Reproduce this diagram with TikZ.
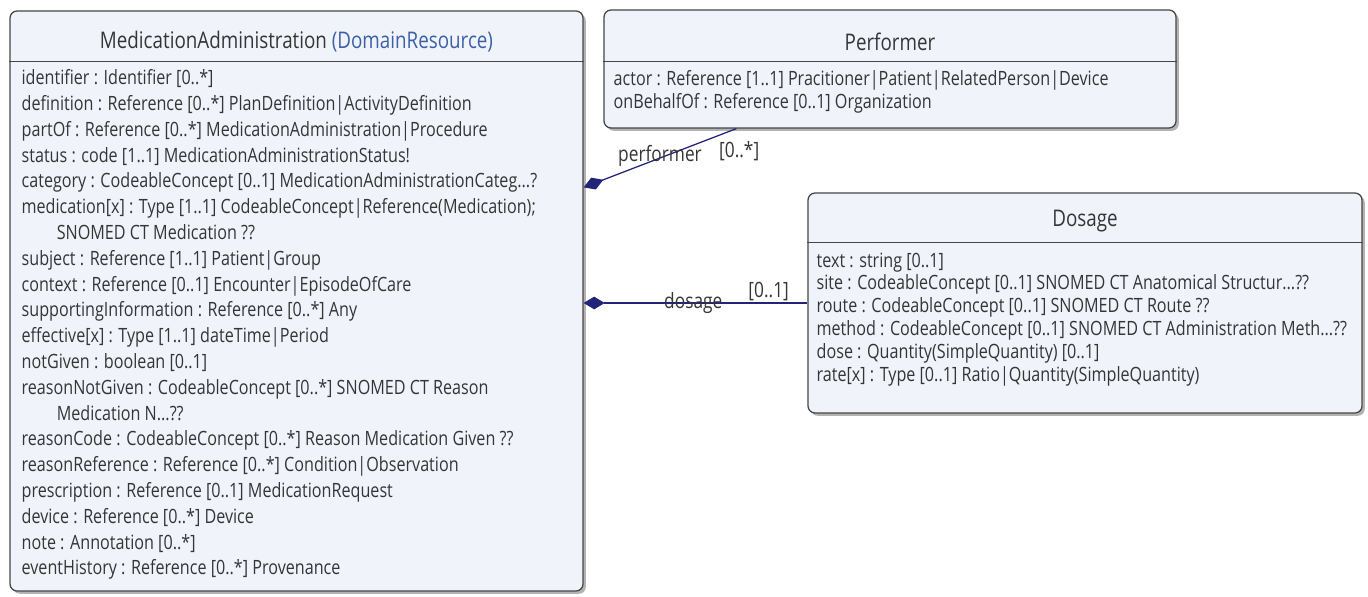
\documentclass[tikz,border=0pt]{standalone}
\usepackage{fontspec}
\setmainfont{Open Sans}[FakeStretch=0.82]
\usetikzlibrary{positioning,calc,fit,shadows,arrows.meta}
\definecolor{boxfill}{HTML}{F0F4FA}
\definecolor{boxline}{HTML}{454545}
\definecolor{assocblue}{HTML}{23237A}
\definecolor{txtgray}{HTML}{353535}
\definecolor{typeblue}{HTML}{3D5FA8}
\tikzset{
    classbox/.style = {rectangle, rounded corners=5pt, draw=boxline, line width=0.9pt, fill=boxfill, inner sep=0pt,
        drop shadow={shadow xshift=2pt, shadow yshift=-2pt, opacity=0.6}},
    sepline/.style = {draw=boxline, line width=0.9pt},
    classname/.style = {text=txtgray, inner sep=0pt, font=\fontsize{16.3}{19}\selectfont},
    attrs/.style = {text=txtgray, align=left, inner sep=0pt, anchor=north west},
    rolename/.style = {text=txtgray, inner sep=1pt, font=\fontsize{15}{17}\selectfont},
    assoc/.style = {draw=assocblue, line width=0.9pt, {Diamond[length=15pt,width=9pt]}-}}

\begin{document}
\begin{tikzpicture}[x=0.025cm, y=-0.025cm, node distance=1cm and 2cm]
    \useasboundingbox (0,0) rectangle (1368,597);
    % class boxes
    \node[classbox, fit={(10,11) (583,591)}] (MA) {};
    \node[classbox, fit={(604,10) (1176,128)}] (P) {};
    \node[classbox, fit={(808,193) (1362,413)}] (D) {};
    \draw[sepline] ($(MA.north west)+(0,51)$) -- ($(MA.north east)+(0,51)$);
    \draw[sepline] ($(P.north west)+(0,52)$) -- ($(P.north east)+(0,52)$);
    \draw[sepline] ($(D.north west)+(0,50)$) -- ($(D.north east)+(0,50)$);
    % names
    \node[classname] (MAn) at ($(MA.north)+(0,31)$) {MedicationAdministration \textcolor{typeblue}{(DomainResource)}};
    \node[classname] (Pn) at ($(P.north)+(0,32)$) {Performer};
    \node[classname] (Dn) at ($(D.north)+(0,29)$) {Dosage};
    % attributes
    \node[attrs, font=\fontsize{14}{18.35}\selectfont] (MAa) at ($(MA.north west)+(12,59)$) {%
        identifier : Identifier [0..*]\\
        definition : Reference [0..*] PlanDefinition|ActivityDefinition\\
        partOf : Reference [0..*] MedicationAdministration|Procedure\\
        status : code [1..1] MedicationAdministrationStatus!\\
        category : CodeableConcept [0..1] MedicationAdministrationCateg...?\\
        medication[x] : Type [1..1] CodeableConcept|Reference(Medication);\\
        \hspace*{25pt}SNOMED CT Medication ??\\
        subject : Reference [1..1] Patient|Group\\
        context : Reference [0..1] Encounter|EpisodeOfCare\\
        supportingInformation : Reference [0..*] Any\\
        effective[x] : Type [1..1] dateTime|Period\\
        notGiven : boolean [0..1]\\
        reasonNotGiven : CodeableConcept [0..*] SNOMED CT Reason\\
        \hspace*{25pt}Medication N...??\\
        reasonCode : CodeableConcept [0..*] Reason Medication Given ??\\
        reasonReference : Reference [0..*] Condition|Observation\\
        prescription : Reference [0..1] MedicationRequest\\
        device : Reference [0..*] Device\\
        note : Annotation [0..*]\\
        eventHistory : Reference [0..*] Provenance};
    \node[attrs, font=\fontsize{14}{16.2}\selectfont] (Pa) at ($(P.north west)+(10,61)$) {%
        actor : Reference [1..1] Pracitioner|Patient|RelatedPerson|Device\\
        onBehalfOf : Reference [0..1] Organization};
    \node[attrs, font=\fontsize{14}{16.2}\selectfont] (Da) at ($(D.north west)+(9,60)$) {%
        text : string [0..1]\\
        site : CodeableConcept [0..1] SNOMED CT Anatomical Structur...??\\
        route : CodeableConcept [0..1] SNOMED CT Route ??\\
        method : CodeableConcept [0..1] SNOMED CT Administration Meth...??\\
        dose : Quantity(SimpleQuantity) [0..1]\\
        rate[x] : Type [0..1] Ratio|Quantity(SimpleQuantity)};
    % associations
    \draw[assoc] ($(MA.north east)+(0,177)$) -- ($(P.south west)+(133,0)$)
        node[pos=0.5, rolename, yshift=1.5pt] (pr) {performer}
        node[pos=1, rolename, anchor=north, xshift=2pt, yshift=-8pt] (pm) {[0..*]};
    \draw[assoc] (MA.east |- D.west) -- (D.west)
        node[pos=0.49, rolename] (dr) {dosage}
        node[pos=0.827, rolename, above] (dm) {[0..1]};
\end{tikzpicture}
\end{document}
